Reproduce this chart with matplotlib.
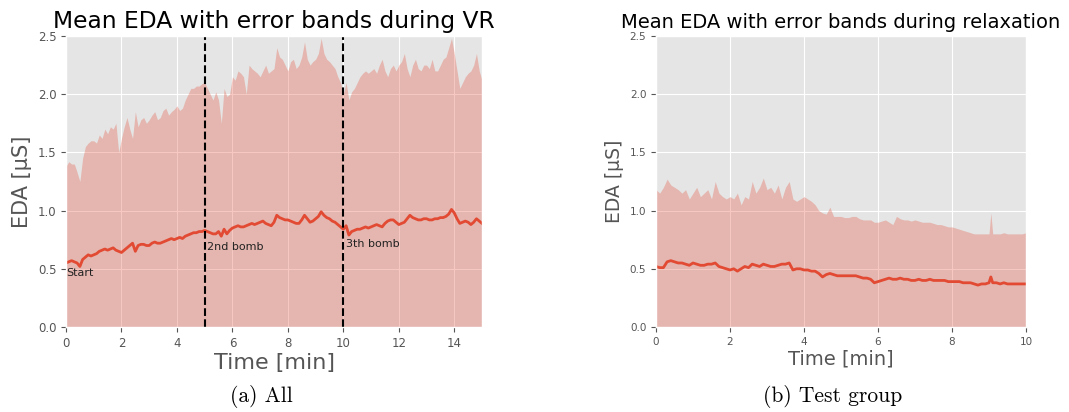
import matplotlib
matplotlib.use("Agg")
import matplotlib.pyplot as plt

plt.style.use("ggplot")

# ---- VR session (all participants) ----
vr_time = [0.0, 0.1, 0.2, 0.3, 0.4, 0.5, 0.6, 0.7, 0.8, 0.9, 1.0, 1.1, 1.2, 1.3, 1.4, 1.5,
           1.6, 1.7, 1.8, 1.9, 2.0, 2.1, 2.2, 2.3, 2.4, 2.5, 2.6, 2.7, 2.8, 2.9, 3.0, 3.1,
           3.2, 3.3, 3.4, 3.5, 3.6, 3.7, 3.8, 3.9, 4.0, 4.1, 4.2, 4.3, 4.4, 4.5, 4.6, 4.7,
           4.8, 4.9, 5.0, 5.1, 5.2, 5.3, 5.4, 5.5, 5.6, 5.7, 5.8, 5.9, 6.0, 6.1, 6.2, 6.3,
           6.4, 6.5, 6.6, 6.7, 6.8, 6.9, 7.0, 7.1, 7.2, 7.3, 7.4, 7.5, 7.6, 7.7, 7.8, 7.9,
           8.0, 8.1, 8.2, 8.3, 8.4, 8.5, 8.6, 8.7, 8.8, 8.9, 9.0, 9.1, 9.2, 9.3, 9.4, 9.5,
           9.6, 9.7, 9.8, 9.9, 10.0, 10.1, 10.2, 10.3, 10.4, 10.5, 10.6, 10.7, 10.8, 10.9,
           11.0, 11.1, 11.2, 11.3, 11.4, 11.5, 11.6, 11.7, 11.8, 11.9, 12.0, 12.1, 12.2,
           12.3, 12.4, 12.5, 12.6, 12.7, 12.8, 12.9, 13.0, 13.1, 13.2, 13.3, 13.4, 13.5,
           13.6, 13.7, 13.8, 13.9, 14.0, 14.1, 14.2, 14.3, 14.4, 14.5, 14.6, 14.7, 14.8,
           14.9, 15.0]
vr_mean = [0.55, 0.56, 0.57, 0.56, 0.55, 0.52, 0.58, 0.60, 0.62, 0.61, 0.62, 0.63, 0.65,
           0.66, 0.67, 0.66, 0.67, 0.68, 0.66, 0.65, 0.64, 0.66, 0.68, 0.70, 0.72, 0.65,
           0.70, 0.71, 0.71, 0.70, 0.70, 0.72, 0.73, 0.72, 0.72, 0.73, 0.74, 0.75, 0.76,
           0.75, 0.76, 0.77, 0.76, 0.78, 0.79, 0.80, 0.81, 0.81, 0.82, 0.82, 0.83, 0.82,
           0.81, 0.80, 0.80, 0.82, 0.78, 0.84, 0.80, 0.83, 0.85, 0.86, 0.87, 0.86, 0.86,
           0.87, 0.88, 0.89, 0.88, 0.89, 0.90, 0.91, 0.89, 0.88, 0.87, 0.90, 0.96, 0.94,
           0.93, 0.92, 0.92, 0.91, 0.90, 0.89, 0.89, 0.92, 0.96, 0.93, 0.90, 0.91, 0.93,
           0.95, 0.99, 0.96, 0.94, 0.93, 0.91, 0.90, 0.88, 0.86, 0.84, 0.87, 0.79, 0.82,
           0.83, 0.84, 0.84, 0.85, 0.86, 0.85, 0.86, 0.87, 0.88, 0.87, 0.86, 0.89, 0.91,
           0.92, 0.92, 0.90, 0.88, 0.89, 0.90, 0.93, 0.96, 0.94, 0.93, 0.92, 0.92, 0.93,
           0.93, 0.92, 0.92, 0.93, 0.93, 0.94, 0.94, 0.95, 0.97, 1.01, 0.98, 0.93, 0.89,
           0.90, 0.91, 0.90, 0.88, 0.90, 0.93, 0.91, 0.89]
vr_upper = [1.38, 1.42, 1.40, 1.40, 1.33, 1.25, 1.45, 1.55, 1.58, 1.60, 1.60, 1.58, 1.65,
            1.62, 1.70, 1.66, 1.72, 1.70, 1.75, 1.50, 1.62, 1.72, 1.80, 1.70, 1.62, 1.85,
            1.72, 1.78, 1.80, 1.75, 1.78, 1.82, 1.85, 1.78, 1.80, 1.86, 1.88, 1.82, 1.85,
            1.87, 1.90, 1.86, 1.88, 1.95, 2.00, 2.05, 2.05, 2.07, 2.07, 2.09, 2.10, 2.05,
            2.00, 1.95, 2.02, 1.95, 1.75, 2.05, 1.98, 2.00, 2.15, 2.12, 2.20, 2.18, 2.15,
            2.00, 2.25, 2.22, 2.20, 2.18, 2.15, 2.20, 2.25, 2.18, 2.20, 2.22, 2.40, 2.32,
            2.30, 2.25, 2.20, 2.28, 2.30, 2.22, 2.25, 2.32, 2.45, 2.30, 2.25, 2.28, 2.30,
            2.35, 2.48, 2.35, 2.30, 2.28, 2.25, 2.22, 2.15, 2.10, 2.00, 2.10, 1.95, 2.02,
            2.05, 2.10, 2.15, 2.18, 2.20, 2.18, 2.20, 2.22, 2.18, 2.25, 2.30, 2.20, 2.15,
            2.22, 2.25, 2.20, 2.25, 2.28, 2.35, 2.22, 2.15, 2.25, 2.30, 2.22, 2.20, 2.25,
            2.25, 2.22, 2.30, 2.20, 2.20, 2.25, 2.30, 2.32, 2.40, 2.48, 2.35, 2.20, 2.05,
            2.10, 2.15, 2.18, 2.20, 2.25, 2.35, 2.20, 2.12]

# ---- relaxation session (test group) ----
rx_time = [0.0, 0.1, 0.2, 0.3, 0.4, 0.5, 0.6, 0.7, 0.8, 0.9, 1.0, 1.1, 1.2, 1.3, 1.4, 1.5,
           1.6, 1.7, 1.8, 1.9, 2.0, 2.1, 2.2, 2.3, 2.4, 2.5, 2.6, 2.7, 2.8, 2.9, 3.0, 3.1,
           3.2, 3.3, 3.4, 3.5, 3.6, 3.7, 3.8, 3.9, 4.0, 4.1, 4.2, 4.3, 4.4, 4.5, 4.6, 4.7,
           4.8, 4.9, 5.0, 5.1, 5.2, 5.3, 5.4, 5.5, 5.6, 5.7, 5.8, 5.9, 6.0, 6.1, 6.2, 6.3,
           6.4, 6.5, 6.6, 6.7, 6.8, 6.9, 7.0, 7.1, 7.2, 7.3, 7.4, 7.5, 7.6, 7.7, 7.8, 7.9,
           8.0, 8.1, 8.2, 8.3, 8.4, 8.5, 8.6, 8.7, 8.8, 8.9, 9.0, 9.05, 9.1, 9.2, 9.3, 9.4,
           9.5, 9.6, 9.7, 9.8, 9.9, 10.0]
rx_mean = [0.52, 0.51, 0.51, 0.56, 0.57, 0.56, 0.55, 0.55, 0.54, 0.53, 0.55, 0.54, 0.53,
           0.53, 0.54, 0.54, 0.55, 0.52, 0.51, 0.50, 0.49, 0.50, 0.48, 0.50, 0.52, 0.51,
           0.54, 0.53, 0.52, 0.54, 0.53, 0.52, 0.52, 0.53, 0.54, 0.54, 0.55, 0.49, 0.50,
           0.50, 0.49, 0.49, 0.48, 0.48, 0.46, 0.43, 0.45, 0.46, 0.45, 0.44, 0.44, 0.44,
           0.44, 0.44, 0.44, 0.43, 0.42, 0.42, 0.41, 0.38, 0.39, 0.40, 0.41, 0.42, 0.41,
           0.41, 0.42, 0.41, 0.41, 0.40, 0.40, 0.41, 0.40, 0.40, 0.41, 0.40, 0.40, 0.40,
           0.40, 0.39, 0.39, 0.39, 0.39, 0.38, 0.38, 0.38, 0.37, 0.36, 0.37, 0.37, 0.38,
           0.43, 0.38, 0.38, 0.37, 0.38, 0.37, 0.37, 0.37, 0.37, 0.37, 0.37]
rx_upper = [1.18, 1.15, 1.20, 1.27, 1.22, 1.20, 1.18, 1.15, 1.18, 1.10, 1.15, 1.20, 1.12,
            1.15, 1.18, 1.10, 1.25, 1.15, 1.12, 1.10, 1.12, 1.10, 1.15, 1.05, 1.12, 1.10,
            1.25, 1.15, 1.20, 1.28, 1.18, 1.20, 1.15, 1.22, 1.10, 1.20, 1.25, 1.10, 1.08,
            1.10, 1.12, 1.10, 1.08, 1.05, 1.00, 0.98, 0.97, 1.03, 0.95, 0.95, 0.95, 0.94,
            0.94, 0.95, 0.95, 0.93, 0.92, 0.92, 0.92, 0.90, 0.90, 0.91, 0.92, 0.90, 0.88,
            0.95, 0.93, 0.92, 0.92, 0.91, 0.92, 0.91, 0.90, 0.90, 0.90, 0.89, 0.88, 0.88,
            0.87, 0.86, 0.86, 0.85, 0.84, 0.83, 0.82, 0.81, 0.80, 0.80, 0.80, 0.80, 0.80,
            0.98, 0.80, 0.80, 0.80, 0.81, 0.80, 0.80, 0.80, 0.80, 0.80, 0.81]

vr_events = [5, 10]
vr_event_labels = [("Start", 0.0, 0.46), ("2nd bomb", 5.1, 0.69), ("3th bomb", 10.1, 0.71)]

line_color = "#E24A33"
label_gray = "#555555"

fig = plt.figure(figsize=(10.69, 4.12), dpi=100)
ax1 = fig.add_axes([66 / 1069, 85 / 412, 416 / 1069, 291 / 412])
ax2 = fig.add_axes([656 / 1069, 85 / 412, 370 / 1069, 291 / 412])

# left panel
ax1.fill_between(vr_time, 0, vr_upper, color=line_color, alpha=0.3, linewidth=0)
ax1.plot(vr_time, vr_mean, color=line_color, linewidth=2)
for ev in vr_events:
    ax1.axvline(ev, color="black", linestyle="--", linewidth=1.5)
for txt, xx, yy in vr_event_labels:
    ax1.text(xx, yy, txt, fontsize=8, color="#222222", va="center", ha="left")
ax1.set_xlim(0, 15)
ax1.set_ylim(0, 2.5)
ax1.set_xticks([0, 2, 4, 6, 8, 10, 12, 14])
ax1.set_yticks([0.0, 0.5, 1.0, 1.5, 2.0, 2.5])
ax1.tick_params(labelsize=8.5, colors=label_gray)
ax1.set_title("Mean EDA with error bands during VR", fontsize=16.8, color="black")
ax1.set_xlabel("Time [min]", fontsize=16, color=label_gray, labelpad=2)
ax1.set_ylabel("EDA [µS]", fontsize=15, color=label_gray)

# right panel
ax2.fill_between(rx_time, 0, rx_upper, color=line_color, alpha=0.3, linewidth=0)
ax2.plot(rx_time, rx_mean, color=line_color, linewidth=2)
ax2.set_xlim(0, 10)
ax2.set_ylim(0, 2.5)
ax2.set_xticks([0, 2, 4, 6, 8, 10])
ax2.set_yticks([0.0, 0.5, 1.0, 1.5, 2.0, 2.5])
ax2.tick_params(labelsize=7.5, colors=label_gray)
ax2.set_title("Mean EDA with error bands during relaxation", fontsize=14, color="black")
ax2.set_xlabel("Time [min]", fontsize=14, color=label_gray, labelpad=2)
ax2.set_ylabel("EDA [µS]", fontsize=13.5, color=label_gray)

# sub-figure captions
fig.text(261 / 1069, 1 - 397 / 412, "(a) All", fontsize=15.5, family="cmr10",
         ha="center", va="center")
fig.text(833 / 1069, 1 - 397 / 412, "(b) Test group", fontsize=15.5, family="cmr10",
         ha="center", va="center")

fig.savefig("out.png", dpi=100)
